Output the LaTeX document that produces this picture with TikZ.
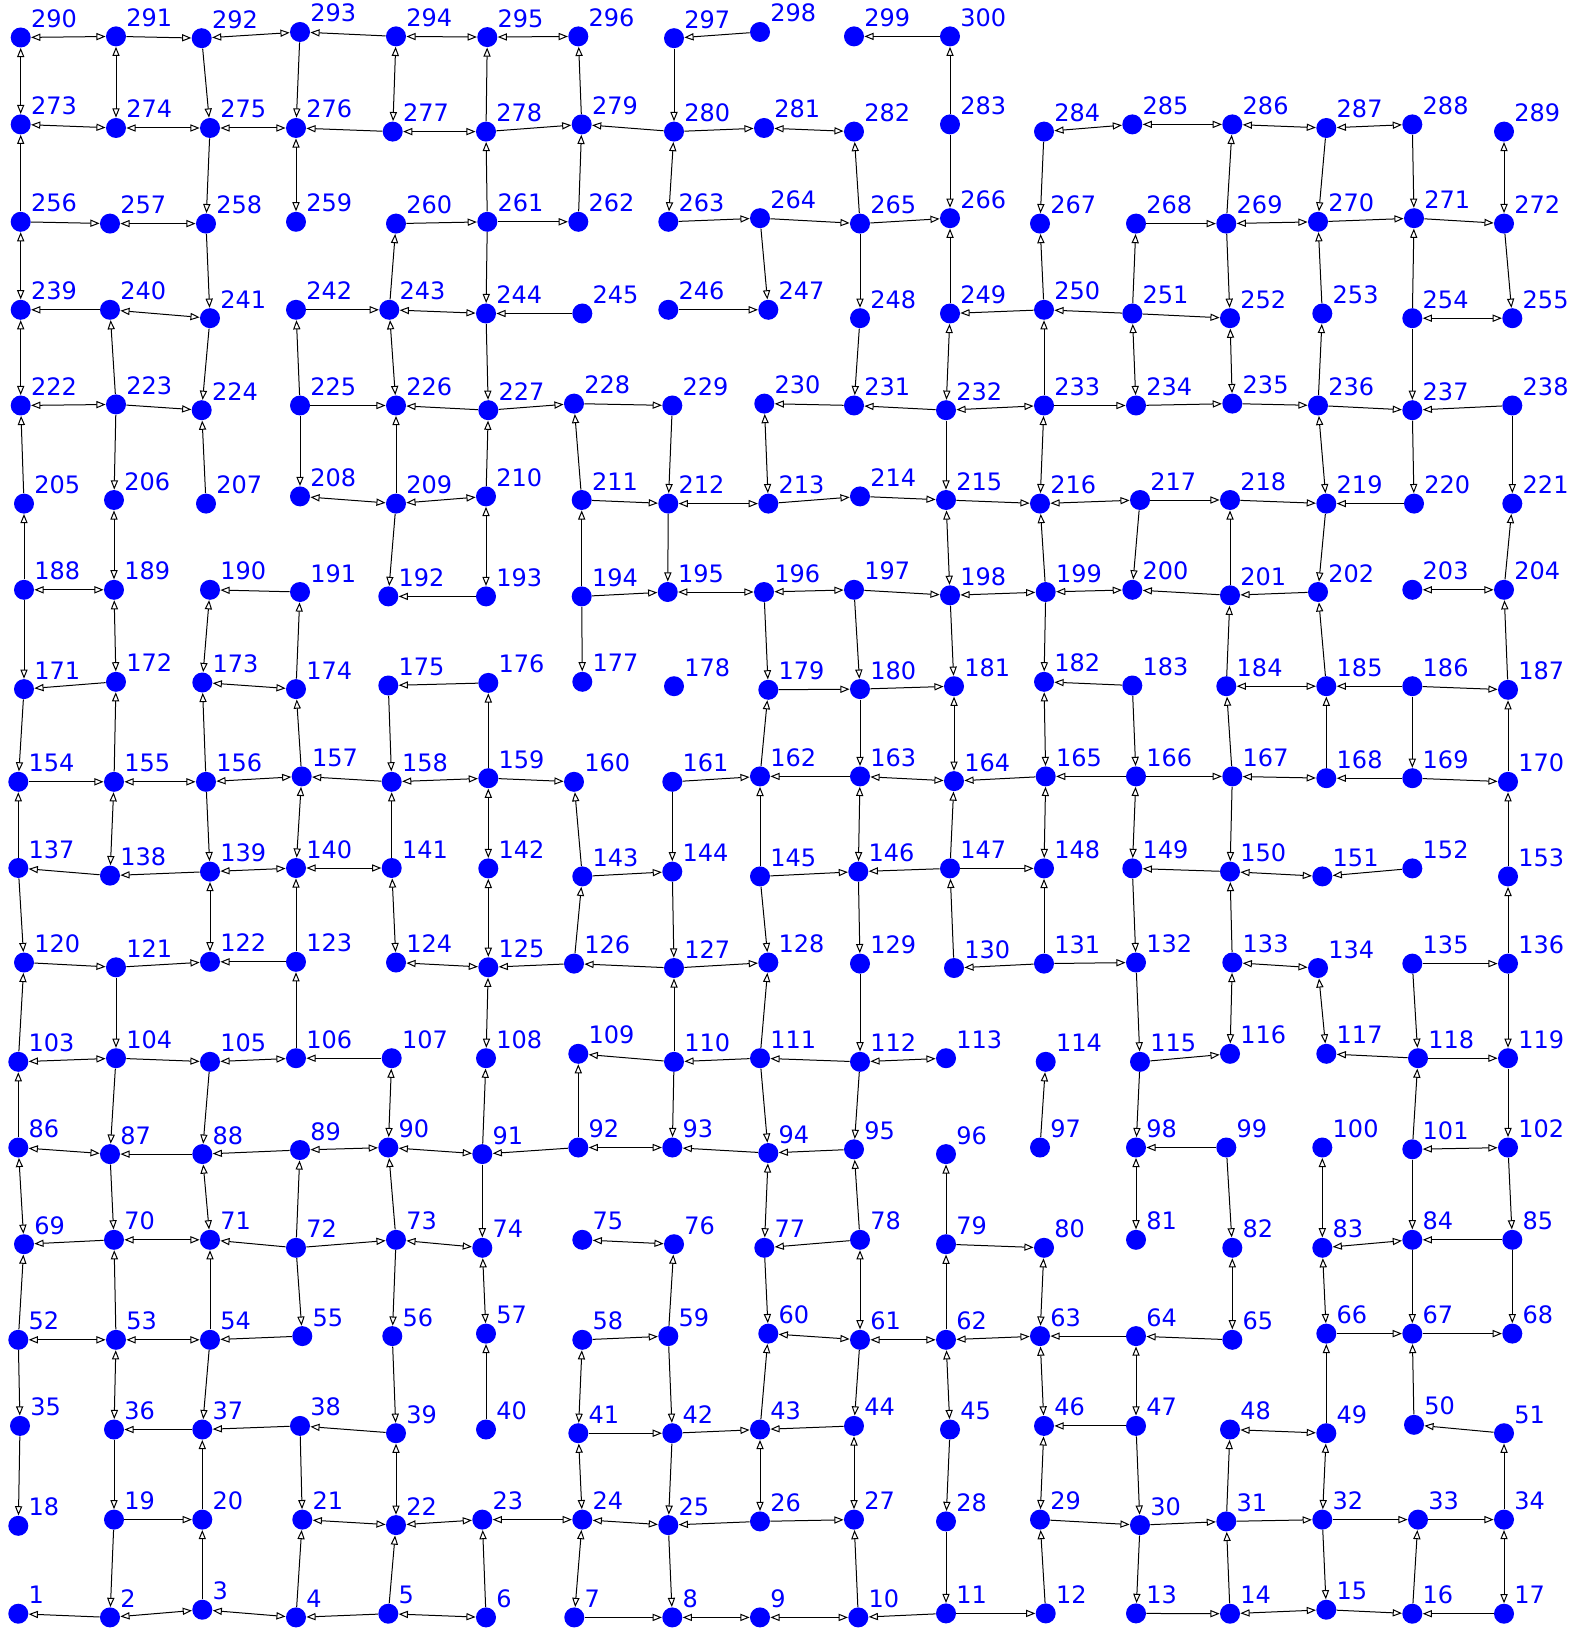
\documentclass[tikz,border=0pt]{standalone}
\usepackage{fontspec}
\setmainfont{DejaVu Sans}
\usetikzlibrary{arrows.meta}
\definecolor{nodeblue}{RGB}{0,0,255}
\begin{document}
\begin{tikzpicture}[x=0.5pt,y=-0.5pt,
  dot/.style={circle,fill=nodeblue,draw=none,minimum size=10pt,inner sep=0pt},
  lbl/.style={anchor=base west,inner sep=0pt,text=nodeblue,font=\fontsize{12}{12}\selectfont},
  tip/.tip={Triangle[open,length=4.6pt,width=3.6pt]},
  one/.style={line width=0.5pt,-tip},
  two/.style={line width=0.5pt,tip-tip}]
\useasboundingbox (0,0) rectangle (1584,1652);
\foreach \n/\x/\y in {
1/18.3/1613.7,2/110/1617.4,3/202.3/1609.7,4/296/1617.4,5/388.3/1613.7,6/486/1617.4,7/574.3/1617.4,8/672.3/1617.4,9/760/1617.4,10/858.3/1617.4,11/946/1613.4,12/1045.7/1613.4,13/1136/1613.4,14/1230/1613.7,15/1326.3/1609.7,16/1412.3/1613.7,17/1504/1613.7,
18/18.3/1525.8,19/114/1519.6,20/202.3/1519.6,21/302.3/1519.6,22/396/1525.1,23/482.3/1519.6,24/582.3/1519.6,25/668.3/1525.1,26/760/1521.4,27/854/1519.6,28/946/1521.4,29/1040/1519.6,30/1140/1525.1,31/1226.3/1521.4,32/1322.3/1519.6,33/1418/1519.6,34/1504/1519.6,
35/20/1425.9,36/114/1429.5,37/202.3/1429.5,38/300/1425.9,39/396/1433.2,40/486/1429.5,41/578.3/1433.2,42/672.3/1433.2,43/760/1429.5,44/854/1425.9,45/950/1429.5,46/1044/1425.9,47/1136/1425.9,48/1230/1429.5,49/1326.3/1433.2,50/1414/1424.8,51/1504/1433.2,
52/18.3/1339.8,53/116/1339.8,54/210/1339.8,55/302.3/1336.1,56/392.3/1336.1,57/486/1333.6,58/582.3/1339.8,59/668.3/1336.1,60/768.3/1333.6,61/860/1339.8,62/946/1339.8,63/1040/1336.1,64/1136/1336.1,65/1232.3/1339.8,66/1326.3/1333.6,67/1412.3/1333.6,68/1512.3/1333.6,
69/24/1244.2,70/114/1239.8,71/210/1239.8,72/296/1247.8,73/396/1239.8,74/482.3/1247.8,75/582.3/1239.8,76/674/1244.2,77/764.3/1247.8,78/860/1239.8,79/946/1244.2,80/1044/1247.8,81/1136/1239.8,82/1232.3/1247.8,83/1322.3/1247.8,84/1412.3/1239.8,85/1512.3/1239.8,
86/18.3/1147.5,87/110/1154.1,88/202.3/1154.1,89/300/1150,90/388.3/1147.5,91/482.3/1154.1,92/578.3/1147.5,93/672.3/1147.5,94/768.3/1153,95/854/1149.3,96/946/1154.1,97/1040/1147.5,98/1136/1147.5,99/1226.3/1147.5,100/1322.3/1147.5,101/1412.3/1149.3,102/1508/1147.5,
103/18.3/1061.8,104/116/1058.2,105/210/1061.8,106/296/1058.2,107/391.7/1058.2,108/486/1058.2,109/578.3/1053.8,110/674/1061.8,111/760/1058.2,112/860/1061.8,113/946/1058.2,114/1045.7/1061.8,115/1140/1061.8,116/1230/1053.8,117/1326.3/1053.8,118/1418/1058.2,119/1508/1058.2,
120/24/962.5,121/116/967.3,122/210/961.8,123/296/961.8,124/396/962.5,125/488.3/967.3,126/574/963.6,127/674/968,128/768.3/962.5,129/860/963.6,130/954/968,131/1044/963.6,132/1136/962.5,133/1232.3/962.5,134/1318/968,135/1412.3/963.6,136/1508/963.6,
137/18.3/868,138/110/875.6,139/210/871.6,140/296/868,141/391.7/868,142/488.3/868.4,143/582.3/876.4,144/672.3/871.6,145/760/876.4,146/858.3/871.6,147/950/868.4,148/1044/868.4,149/1132.3/868.4,150/1230/871.6,151/1322.3/876.4,152/1412.3/868.4,153/1508/876.4,
154/18.3/781.8,155/114/781.8,156/206/781.8,157/301.7/776.4,158/391.7/781.8,159/488.3/778.2,160/574/781.8,161/672.3/781.8,162/760/776.4,163/860/776.4,164/954/781.1,165/1045.7/776.4,166/1136/776.4,167/1232.3/776.4,168/1326.3/778.2,169/1412.3/778.2,170/1508/781.8,
171/24/689.1,172/116/681.8,173/202.3/682.5,174/296/689.1,175/388.3/685.5,176/488.3/682.9,177/582.3/681.8,178/674/686.2,179/768.3/689.8,180/860/689.1,181/954/686.2,182/1044/681.8,183/1132.3/685.5,184/1226.3/686.2,185/1326.3/686.2,186/1412.3/686.2,187/1508/689.8,
188/24/589.8,189/114/589.8,190/210/589.8,191/300/592,192/388.3/596.4,193/486/596.4,194/581.7/596.4,195/667.7/592,196/764/592,197/854/589.8,198/950/595.3,199/1045.7/592,200/1132.3/589.8,201/1230/595.3,202/1318/592,203/1412.3/589.8,204/1504/589.8,
205/24/503.6,206/114/500,207/206/503.6,208/300/496.4,209/396/503.6,210/486/496.4,211/581.7/500,212/668.3/503.6,213/768.3/503.6,214/860/496.4,215/946/500,216/1040/503.6,217/1140/500,218/1230/500,219/1326.3/503.6,220/1414/503.6,221/1512.3/503.6,
222/20.7/405.5,223/116/404.4,224/201.7/410.2,225/300/405.5,226/396/405.5,227/488.3/410.2,228/574/403.6,229/672.3/405.5,230/764.3/403.6,231/854/405.5,232/946/410.2,233/1044/405.5,234/1136/405.5,235/1232.3/403.6,236/1318/405.5,237/1412.3/410.2,238/1512.3/405.5,
239/20.7/309.8,240/110/309.8,241/210/318.2,242/296/309.8,243/389.3/309.8,244/486/313.5,245/582.3/313.5,246/668.3/309.8,247/768.3/309.8,248/860/318.2,249/950/313.5,250/1044/309.8,251/1132.3/313.5,252/1230/318.2,253/1322.3/313.5,254/1412.3/318.2,255/1512.3/318.2,
256/20.7/221.8,257/110/223.6,258/206/223.6,259/296/221.8,260/396/223.6,261/487.3/221.8,262/578.3/221.8,263/668.3/221.8,264/760/218.2,265/860/223.6,266/950/218.2,267/1040/223.6,268/1136/223.6,269/1226.3/223.6,270/1318/221.8,271/1414/218.2,272/1504/223.6,
273/20.7/124.4,274/116/128,275/210/128,276/296/128,277/392.7/131.6,278/486/131.6,279/581.7/124.4,280/674/131.6,281/764/128,282/854/131.6,283/950/124.4,284/1044/131.6,285/1132.3/124.4,286/1232.3/124.4,287/1326.3/128,288/1412.3/124.4,289/1504/131.6,
290/20.7/37.5,291/116/36.4,292/201.7/38.2,293/300/32,294/396/36.4,295/487.3/37.1,296/578.3/36.4,297/674/38.2,298/760/32,299/854/36.4,300/950/36.4}
{
  \node[dot] (n\n) at (\x,\y) {};
  \node[lbl] (l\n) at (\x+10,\y-10) {\n};
}
% one-way edges a -> b
\foreach \a/\b in {
291/292,298/297,300/299,294/293,
292/275,293/276,278/295,279/296,297/280,283/300,
277/276,278/279,280/279,280/281,
256/273,275/258,261/278,262/279,265/282,283/266,284/267,269/286,287/270,288/271,
256/257,260/261,261/262,263/264,264/265,265/266,268/269,270/271,271/272,
258/241,243/260,261/244,264/247,265/248,249/266,250/267,251/268,269/252,253/270,254/271,272/255,
240/239,242/243,245/244,246/247,250/249,251/250,251/252,
223/240,241/224,225/242,244/227,248/231,233/250,236/253,254/237,
223/224,225/226,227/226,227/228,228/229,231/230,232/231,233/234,234/235,235/236,236/237,238/237,
205/222,223/206,207/224,225/208,209/226,210/227,211/228,229/212,232/215,237/220,238/221,
211/212,213/214,214/215,215/216,217/218,218/219,220/219,
188/205,209/192,194/211,212/195,199/216,217/200,201/218,219/202,204/221,
191/190,193/192,194/195,197/198,201/200,202/201,
188/171,174/191,194/177,196/179,197/180,198/181,199/182,184/201,185/202,187/204,
172/171,176/175,179/180,180/181,183/182,186/185,186/187,
171/154,155/172,156/173,157/174,175/158,159/176,162/179,180/163,183/166,167/184,168/185,186/169,170/187,
154/155,158/157,159/160,161/162,163/162,165/164,166/165,166/167,169/168,169/170,
137/154,156/139,141/158,143/160,161/144,145/162,147/164,167/150,153/170,
138/137,139/138,143/144,145/146,147/146,147/148,150/149,152/151,
137/120,123/140,126/143,144/127,145/128,146/129,130/147,131/148,149/132,133/150,136/153,
120/121,121/122,123/122,126/125,127/126,127/128,131/130,131/132,135/136,
103/120,121/104,106/123,110/127,111/128,129/112,132/115,135/118,136/119,
104/105,107/106,110/109,111/110,112/111,115/116,118/117,118/119,
86/103,104/87,105/88,91/108,92/109,110/93,111/94,112/95,97/114,115/98,101/118,119/102,
88/87,89/88,92/91,94/93,95/94,99/98,
87/70,72/89,73/90,91/74,78/95,79/96,99/82,101/84,102/85,
70/69,72/71,72/73,78/77,79/80,85/84,
52/69,53/70,54/71,72/55,73/56,59/76,77/60,62/79,84/67,85/68,
55/54,58/59,64/63,65/64,66/67,67/68,
52/35,54/37,56/39,40/57,59/42,43/60,61/44,49/66,50/67,
37/36,38/37,39/38,41/42,42/43,44/43,47/46,51/50,
35/18,36/19,20/37,38/21,42/25,45/28,47/30,31/48,34/51,
19/20,26/25,26/27,29/30,30/31,31/32,32/33,33/34,
19/2,3/20,4/21,5/22,6/23,25/8,10/27,28/11,12/29,30/13,14/31,32/15,16/33,
2/1,5/4,7/8,11/10,11/12,13/14,15/16,17/16}
  \draw[one] (n\a) -- (n\b);
% two-way edges
\foreach \a/\b in {
290/291,292/293,294/295,295/296,
290/273,291/274,294/277,
273/274,274/275,275/276,277/278,281/282,284/285,285/286,286/287,287/288,
276/259,280/263,289/272,
257/258,269/270,
256/239,
240/241,243/244,254/255,
239/222,243/226,249/232,251/234,252/235,
222/223,232/233,
230/213,233/216,236/219,
208/209,209/210,212/213,216/217,
206/189,210/193,215/198,
188/189,195/196,196/197,198/199,199/200,203/204,
189/172,190/173,
173/174,184/185,
181/164,182/165,
155/156,156/157,158/159,163/164,167/168,
155/138,157/140,159/142,163/146,165/148,166/149,
139/140,140/141,150/151,
139/122,141/124,142/125,
124/125,133/134,
125/108,133/116,134/117,
103/104,105/106,112/113,
107/90,
86/87,89/90,90/91,92/93,101/102,
86/69,88/71,94/77,98/81,100/83,
70/71,73/74,75/76,83/84,
74/57,78/61,80/63,82/65,83/66,
52/53,53/54,60/61,61/62,62/63,
53/36,58/41,62/45,63/46,64/47,
48/49,
39/22,41/24,43/26,44/27,46/29,49/32,
21/22,22/23,23/24,24/25,
24/7,34/17,
2/3,3/4,5/6,8/9,9/10,14/15}
  \draw[two] (n\a) -- (n\b);
\end{tikzpicture}
\end{document}
